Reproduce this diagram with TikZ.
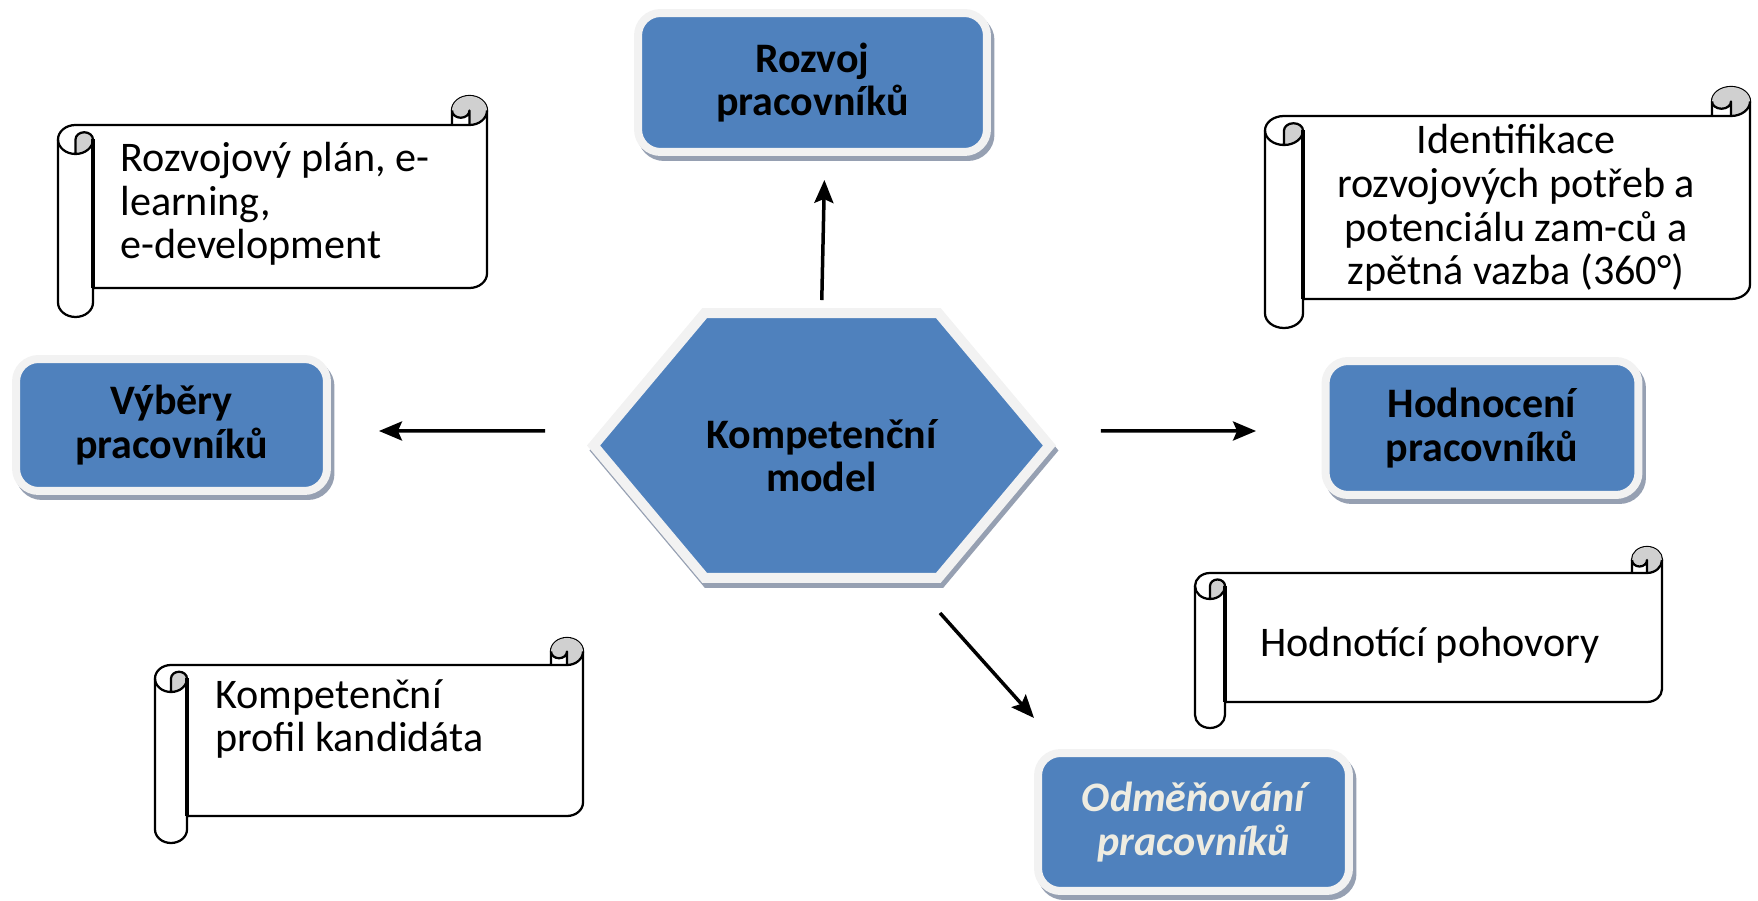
\documentclass[tikz,border=0pt]{standalone}
\usepackage{fontspec}
\setmainfont{Carlito}
\usepackage{tikz}
\usetikzlibrary{shapes.symbols, arrows.meta, calc}
\definecolor{boxblue}{RGB}{79, 129, 189}
\definecolor{framegray}{RGB}{242, 242, 242}
\definecolor{shadowgray}{RGB}{150, 160, 178}
\definecolor{curlgray}{RGB}{208, 208, 208}
\definecolor{paletext}{RGB}{238, 236, 225}

\tikzset{
  box/.style={draw=framegray, line width=0.16cm, fill=boxblue, rounded corners=0.45cm,
    outer sep=0pt, inner sep=0pt, align=center,
    font=\fontsize{23.9}{24.8}\selectfont\bfseries,
    preaction={fill=shadowgray, draw=shadowgray, transform canvas={xshift=0.07cm, yshift=-0.1cm}}},
  hexbox/.style={signal, signal to=west and east, signal pointer angle=100,
    draw=framegray, line width=0.2cm, fill=boxblue, outer sep=0pt, inner sep=0pt,
    minimum width=9.12cm, minimum height=5.3cm, align=center,
    font=\fontsize{23.9}{24.8}\selectfont\bfseries,
    preaction={fill=shadowgray, draw=shadowgray, transform canvas={xshift=0.05cm, yshift=-0.1cm}}},
  arr/.style={-{Stealth[length=0.46cm, width=0.38cm, inset=0.08cm]}, line width=0.07cm},
  scrollline/.style={draw=black, line width=0.045cm, line join=round},
  scrolltext/.style={inner sep=0pt, font=\fontsize{24}{24.8}\selectfont}
}

% svitek: levy, horni, pravy, dolni okraj, sirka a vyska zavitku (px, y dolu)
\newcommand{\drawscroll}[6]{%
  \pgfmathsetmacro{\cxh}{#5/2}\pgfmathsetmacro{\cxq}{#5/4}%
  \pgfmathsetmacro{\cyh}{#6/2}\pgfmathsetmacro{\cyq}{#6/4}%
  \pgfmathsetmacro{\scXa}{#1+#5/2}\pgfmathsetmacro{\scXb}{#1+#5}%
  \pgfmathsetmacro{\scXc}{#3-#5}\pgfmathsetmacro{\scXd}{#3-#5/2}%
  \pgfmathsetmacro{\scYb}{#2+#6}\pgfmathsetmacro{\scYc}{#2+#6/2}%
  \pgfmathsetmacro{\scYd}{#2+1.5*#6}\pgfmathsetmacro{\scYe}{#2+2*#6}%
  \pgfmathsetmacro{\scYf}{#4-#6}\pgfmathsetmacro{\scYg}{#4-#6/2}%
  \pgfmathsetmacro{\scYh}{#4-1.5*#6}%
  \filldraw[scrollline, fill=white]
    (#1,\scYd) arc[start angle=180, end angle=270, x radius=\cxh, y radius=\cyh]
    -- (\scXc,\scYb) -- (\scXc,\scYc)
    arc[start angle=180, end angle=360, x radius=\cxh, y radius=\cyh]
    -- (#3,\scYh)
    arc[start angle=0, end angle=90, x radius=\cxh, y radius=\cyh]
    -- (\scXb,\scYf) -- (\scXb,\scYg)
    arc[start angle=0, end angle=180, x radius=\cxh, y radius=\cyh]
    -- cycle;
  \fill[curlgray] (\scXa,\scYe) arc[start angle=90, end angle=0, x radius=\cxh, y radius=\cyh]
    arc[start angle=0, end angle=-180, x radius=\cxq, y radius=\cyq] -- cycle;
  \fill[curlgray] (\scXd,\scYb) arc[start angle=90, end angle=-180, x radius=\cxh, y radius=\cyh]
    arc[start angle=180, end angle=0, x radius=\cxq, y radius=\cyq] -- cycle;
  \draw[scrollline] (\scXc,\scYb) -- (\scXd,\scYb)
    arc[start angle=90, end angle=0, x radius=\cxh, y radius=\cyh];
  \draw[scrollline] (\scXd,\scYb) -- (\scXd,\scYc)
    arc[start angle=0, end angle=180, x radius=\cxq, y radius=\cyq];
  \draw[scrollline] (\scXa,\scYe) -- (\scXa,\scYd)
    arc[start angle=180, end angle=360, x radius=\cxq, y radius=\cyq]
    arc[start angle=0, end angle=180, x radius=\cxh, y radius=\cyh];
  \draw[scrollline, line width=0.075cm] (\scXb,\scYd) -- (\scXb,\scYf);
}

\begin{document}
\begin{tikzpicture}[x=0.02cm, y=-0.02cm]
  \useasboundingbox (0,0) rectangle (1758,901);

  % --- Svitky ---
  \drawscroll{58}{96}{487}{317}{35}{29}
  \drawscroll{1265}{87}{1750}{328}{38}{29}
  \drawscroll{155}{638}{583}{843}{32}{27}
  \drawscroll{1195}{547}{1662}{728}{30}{26}

  \node[scrolltext, anchor=west, align=left] (plan) at (120,204)
    {Rozvojový plán, e-\\learning,\\e-development};
  \node[scrolltext, align=center] (potreby) at (1516,208)
    {Identifikace\\rozvojových potřeb a\\potenciálu zam-ců a\\zpětná vazba (360°)};
  \node[scrolltext, anchor=west, align=left] (profil) at (215,719)
    {Kompetenční\\profil kandidáta};
  \node[scrolltext] (pohovory) at (1430,645) {Hodnotící pohovory};

  % --- Stred ---
  \node[hexbox] (model) at (821.5,445.5) {\rule{0pt}{28pt}Kompetenční\\model};

  % --- Oblasti ---
  \node[box, minimum width=6.98cm, minimum height=2.78cm] (rozvoj) at (812.5,82.5)
    {Rozvoj\\pracovníků};
  \node[box, minimum width=6.22cm, minimum height=2.64cm] (vyber) at (171.5,425)
    {Výběry\\pracovníků};
  \node[box, minimum width=6.26cm, minimum height=2.68cm] (hodnoceni) at (1482,428)
    {Hodnocení\\pracovníků};
  \node[box, minimum width=6.22cm, minimum height=2.76cm, font=\fontsize{23.9}{24.8}\selectfont\bfseries\itshape,
    text=paletext] (odmena) at (1193.5,822) {Odměňování\\pracovníků};

  % --- Sipky ---
  \draw[arr, shorten <=0.26cm, shorten >=0.56cm] (model.north) -- ([xshift=0.25cm]rozvoj.south);
  \draw[arr, shorten <=0.97cm, shorten >=1.04cm] ([yshift=0.29cm]model.west) -- ([yshift=-0.12cm]vyber.east);
  \draw[arr, shorten <=1.03cm, shorten >=1.39cm] ([yshift=0.29cm]model.east) -- ([yshift=-0.06cm]hodnoceni.west);
  \draw[arr] ($(model.south)+(118.5,35)$) -- ($(odmena.north west)+(-4,-35)$);
\end{tikzpicture}
\end{document}
